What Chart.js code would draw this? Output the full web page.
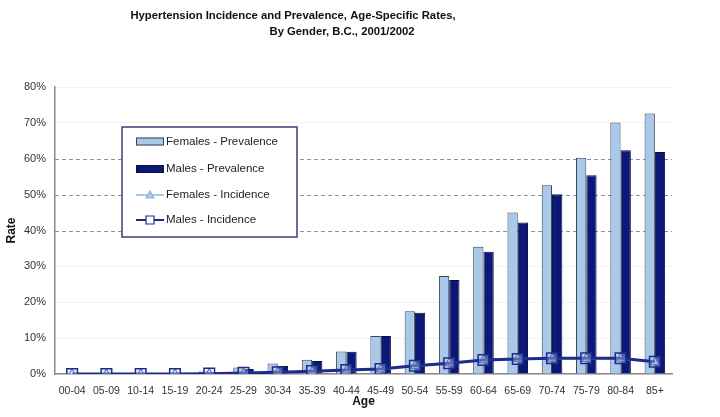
<!DOCTYPE html>
<html>
<head>
<meta charset="utf-8">
<script src="https://cdn.jsdelivr.net/npm/chart.js@4"></script>
<style>
  html, body { margin: 0; padding: 0; background: #fff; }
  #wrap { width: 720px; height: 417px; position: relative; }
</style>
</head>
<body>
<div id="wrap"><canvas id="chart" width="720" height="417"></canvas></div>
<script>
// ---- Data (rates in %) --------------------------------------------------
const AGE_GROUPS = ['00-04', '05-09', '10-14', '15-19', '20-24', '25-29', '30-34', '35-39', '40-44',
    '45-49', '50-54', '55-59', '60-64', '65-69', '70-74', '75-79', '80-84', '85+'];
const FEMALE_PREV = [0.05, 0.1, 0.1, 0.2, 0.7, 1.8, 2.9, 4.0, 6.3, 10.6, 17.5, 27.3, 35.5, 45.0, 52.6, 60.3, 70.1, 72.6];
const MALE_PREV = [0.05, 0.1, 0.1, 0.2, 0.5, 1.4, 2.2, 3.6, 6.2, 10.6, 17.1, 26.2, 34.1, 42.2, 50.1, 55.4, 62.4, 61.9];
const FEMALE_INC = [0.0, 0.0, 0.0, 0.0, 0.1, 0.2, 0.4, 0.7, 1.0, 1.3, 2.2, 3.0, 3.8, 4.2, 4.3, 4.3, 4.3, 3.3];
const MALE_INC = [0.0, 0.0, 0.0, 0.0, 0.1, 0.3, 0.5, 0.8, 1.1, 1.4, 2.3, 3.0, 3.9, 4.2, 4.4, 4.4, 4.4, 3.4];
const Y_TICKS = [0, 10, 20, 30, 40, 50, 60, 70, 80];
const DASHED_LINES = [40, 50, 60];

const TITLE_LINES = ['Hypertension Incidence and Prevalence, Age-Specific Rates,', 'By Gender, B.C., 2001/2002'];

const FONT = "'Liberation Sans', Arial, sans-serif";
const LIGHT = '#a9c9ea';
const NAVY = '#0b1878';
const LINE_NAVY = '#1b2c8c';

// ---- Title (two lines, each with its own centre like the original) -----
const titlePlugin = {
    id: 'twoLineTitle',
    afterDraw(chart) {
        const ctx = chart.ctx;
        ctx.save();
        ctx.fillStyle = '#111';
        ctx.font = `bold 11.3px ${FONT}`;
        ctx.textAlign = 'center';
        ctx.textBaseline = 'middle';
        ctx.fillText(TITLE_LINES[0], 293, 15.5);
        ctx.fillText(TITLE_LINES[1], 342, 32);
        ctx.restore();
    }
};

// ---- Boxed legend inside the plot -------------------------------------
const boxLegend = {
    id: 'boxLegend',
    afterDraw(chart) {
        const ctx = chart.ctx;
        const x0 = 122, y0 = 127, w = 175, h = 110;
        ctx.save();
        ctx.fillStyle = '#fff';
        ctx.fillRect(x0, y0, w, h);
        ctx.strokeStyle = '#3a3f7a';
        ctx.lineWidth = 1.5;
        ctx.strokeRect(x0, y0, w, h);

        const rows = [141.5, 169, 195, 220];
        const sx = 136, sw = 28;
        ctx.font = `11.5px ${FONT}`;
        ctx.textBaseline = 'middle';
        ctx.textAlign = 'left';

        chart.data.datasets.forEach((ds, i) => {
            const y = rows[i];
            if (ds.type === 'bar') {
                ctx.fillStyle = ds.backgroundColor;
                ctx.fillRect(sx, y - 4, sw, 8);
                ctx.strokeStyle = ds.borderColor;
                ctx.lineWidth = 1;
                ctx.strokeRect(sx + 0.5, y - 3.5, sw - 1, 7);
            } else {
                ctx.strokeStyle = ds.borderColor;
                ctx.lineWidth = 2;
                ctx.beginPath();
                ctx.moveTo(sx, y);
                ctx.lineTo(sx + sw, y);
                ctx.stroke();
                const cx = sx + sw / 2;
                ctx.lineWidth = 1.2;
                if (ds.pointStyle === 'rect') {
                    ctx.strokeStyle = LINE_NAVY;
                    ctx.fillStyle = '#fff';
                    ctx.beginPath();
                    ctx.rect(cx - 4, y - 4, 8, 8);
                } else {
                    ctx.strokeStyle = '#8fb4dc';
                    ctx.fillStyle = LIGHT;
                    ctx.beginPath();
                    ctx.moveTo(cx, y - 4);
                    ctx.lineTo(cx + 4, y + 3);
                    ctx.lineTo(cx - 4, y + 3);
                    ctx.closePath();
                }
                ctx.fill();
                ctx.stroke();
            }
            ctx.fillStyle = '#222';
            ctx.fillText(ds.label, sx + sw + 2, y);
        });
        ctx.restore();
    }
};

const ctx = document.getElementById('chart').getContext('2d');

new Chart(ctx, {
    data: {
        labels: AGE_GROUPS,
        datasets: [
            {
                type: 'bar',
                label: 'Females - Prevalence',
                data: FEMALE_PREV,
                backgroundColor: LIGHT,
                borderColor: '#3c4250',
                borderWidth: 1,
                borderSkipped: 'bottom',
                categoryPercentage: 0.6,
                barPercentage: 1.0,
                order: 3,
            },
            {
                type: 'bar',
                label: 'Males - Prevalence',
                data: MALE_PREV,
                backgroundColor: NAVY,
                borderColor: '#0a0f3a',
                borderWidth: 1,
                borderSkipped: 'bottom',
                categoryPercentage: 0.6,
                barPercentage: 1.0,
                order: 3,
            },
            {
                type: 'line',
                label: 'Females - Incidence',
                data: FEMALE_INC,
                borderColor: '#a9c9ea',
                borderWidth: 2,
                pointStyle: 'triangle',
                pointRadius: 5,
                pointBackgroundColor: 'rgba(255,255,255,0.6)',
                pointBorderColor: '#2a3fa0',
                pointBorderWidth: 1.2,
                tension: 0,
                order: 2,
            },
            {
                type: 'line',
                label: 'Males - Incidence',
                data: MALE_INC,
                borderColor: LINE_NAVY,
                borderWidth: 3,
                pointStyle: 'rect',
                pointRadius: 7.5,
                pointBackgroundColor: 'rgba(200,220,245,0.35)',
                pointBorderColor: LINE_NAVY,
                pointBorderWidth: 1.5,
                tension: 0,
                order: 1,
            },
        ]
    },
    options: {
        responsive: false,
        animation: false,
        layout: { padding: { top: 87, right: 48, left: 4, bottom: 8 } },
        plugins: {
            legend: { display: false },
            title: { display: false },
            tooltip: { enabled: false },
        },
        scales: {
            x: {
                grid: { display: false, drawTicks: false },
                border: { display: true, color: '#8a8a8a', width: 1.5 },
                ticks: { color: '#333', font: { family: FONT, size: 10.5 }, padding: 11, maxRotation: 0, autoSkip: false },
                title: { display: true, text: 'Age', color: '#111', font: { family: FONT, size: 12, weight: 'bold' }, padding: { top: 0, bottom: 0 } },
                afterFit: s => { s.height = 35; },
            },
            y: {
                min: 0,
                max: 80,
                afterBuildTicks: s => { s.ticks = Y_TICKS.map(v => ({ value: v })); },
                grid: {
                    drawTicks: false,
                    color: c => DASHED_LINES.includes(c.tick.value) ? 'rgba(0,0,0,0)' : 'rgba(235,235,225,0.6)',
                    lineWidth: 1,
                },
                border: { display: true, color: '#8a8a8a', width: 1.5 },
                ticks: { color: '#333', font: { family: FONT, size: 11 }, padding: 9, callback: v => v + '%' },
                title: { display: true, text: 'Rate', color: '#111', font: { family: FONT, size: 12, weight: 'bold' }, padding: { top: 0, bottom: 2 } },
                afterFit: s => { s.width = 51; },
            }
        }
    },
    plugins: [
        {
            id: 'dashGrid',
            beforeDatasetsDraw(chart) {
                // dashed gridlines at 40/50/60 %
                const { ctx, chartArea, scales } = chart;
                ctx.save();
                ctx.strokeStyle = '#8d91a8';
                ctx.lineWidth = 1;
                ctx.setLineDash([4, 3]);
                DASHED_LINES.forEach(v => {
                    const y = Math.round(scales.y.getPixelForValue(v)) + 0.5;
                    ctx.beginPath();
                    ctx.moveTo(chartArea.left, y);
                    ctx.lineTo(chartArea.right, y);
                    ctx.stroke();
                });
                ctx.restore();
            }
        },
        titlePlugin,
        boxLegend,
    ]
});
</script>
</body>
</html>
